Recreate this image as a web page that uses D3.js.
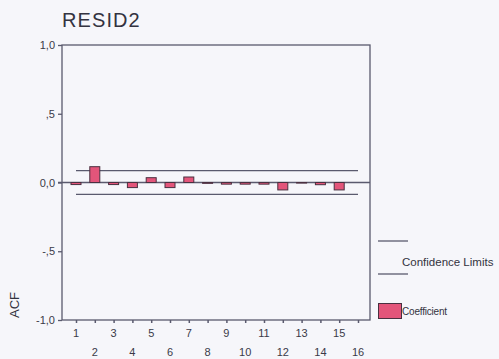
<!DOCTYPE html>
<html>
<head>
<meta charset="utf-8">
<script src="https://cdn.jsdelivr.net/npm/d3@7"></script>
<style>
  html, body { margin: 0; padding: 0; background: #f6f6fa; }
  svg { display: block; font-family: "Liberation Sans", Arial, sans-serif; }
</style>
</head>
<body>
<svg id="chart" width="499" height="359"></svg>
<script>
// Autocorrelation of RESID2 by lag
const lags = [1, 2, 3, 4, 5, 6, 7, 8, 9, 10, 11, 12, 13, 14, 15, 16];
const acf = [-0.015, 0.115, -0.015, -0.037, 0.035, -0.037, 0.04, -0.006, -0.012, -0.012, -0.012, -0.054, -0.004, -0.016, -0.054, 0.0];
const confUpper = [0.086, 0.086, 0.086, 0.086, 0.086, 0.086, 0.086, 0.086, 0.086, 0.086, 0.086, 0.086, 0.086, 0.086, 0.086, 0.086];
const confLower = [-0.086, -0.086, -0.086, -0.086, -0.086, -0.086, -0.086, -0.086, -0.086, -0.086, -0.086, -0.086, -0.086, -0.086, -0.086, -0.086];
const yTicks = [1.0, 0.5, 0.0, -0.5, -1.0];
const yTickLabels = ["1,0", ",5", "0,0", "-,5", "-1,0"];

const svg = d3.select("#chart");
const frame = { left: 62, right: 370, top: 45, bottom: 320 };
const axisColor = "#5a5a6e";
const barFill = "#e3557a";
const barStroke = "#4a3040";

const x = d3.scalePoint().domain(lags).range([76, 358]);
const y = d3.scaleLinear().domain([-1, 1]).range([frame.bottom, frame.top]);
const barW = 10;

// Title
svg.append("text")
  .attr("x", 62).attr("y", 27)
  .attr("font-size", 20).attr("letter-spacing", 1.1).attr("fill", "#333340")
  .text("RESID2");

// Plot frame
svg.append("rect")
  .attr("x", frame.left).attr("y", frame.top)
  .attr("width", frame.right - frame.left)
  .attr("height", frame.bottom - frame.top)
  .attr("fill", "none").attr("stroke", axisColor).attr("stroke-width", 1.3);

// Y axis
const yAxis = d3.axisLeft(y).tickValues(yTicks)
  .tickFormat((d, i) => yTickLabels[i]).tickSize(4).tickPadding(3);
const gy = svg.append("g").attr("transform", `translate(${frame.left},0)`).call(yAxis);
gy.select(".domain").remove();
gy.selectAll("line").attr("stroke", axisColor).attr("stroke-width", 1.3);
gy.selectAll("text").attr("font-size", 11).attr("fill", "#3a3a48")
  .attr("font-family", "'Liberation Sans', Arial, sans-serif");

// X axis: ticks at every lag, labels alternate across two rows
const xAxis = d3.axisBottom(x).tickSize(3).tickFormat("");
const gx = svg.append("g").attr("transform", `translate(0,${frame.bottom})`).call(xAxis);
gx.select(".domain").remove();
gx.selectAll("line").attr("stroke", axisColor).attr("stroke-width", 1.5);
svg.append("g").selectAll("text").data(lags).join("text")
  .attr("x", d => x(d))
  .attr("y", d => d % 2 === 1 ? 337 : 356)
  .attr("text-anchor", "middle")
  .attr("font-size", 11).attr("fill", "#3a3a48")
  .text(d => d);

// Y axis title
svg.append("text")
  .attr("transform", "translate(19,305) rotate(-90)")
  .attr("text-anchor", "middle")
  .attr("font-size", 13).attr("fill", "#333340")
  .text("ACF");

// Zero reference line
svg.append("line")
  .attr("x1", frame.left - 4).attr("x2", frame.right)
  .attr("y1", y(0)).attr("y2", y(0))
  .attr("stroke", axisColor).attr("stroke-width", 1.3);

// Confidence limits
const limitLine = d3.line().x((d, i) => x(lags[i])).y(d => y(d));
[confUpper, confLower].forEach(vals => {
  svg.append("path")
    .attr("d", limitLine(vals))
    .attr("fill", "none").attr("stroke", axisColor).attr("stroke-width", 1.3);
});

// Coefficient bars
svg.append("g").selectAll("rect").data(lags.map((l, i) => ({ lag: l, v: acf[i] })))
  .join("rect")
  .attr("x", d => x(d.lag) - barW / 2)
  .attr("y", d => y(Math.max(0, d.v)))
  .attr("width", barW)
  .attr("height", d => Math.abs(y(d.v) - y(0)))
  .attr("fill", barFill).attr("stroke", barStroke).attr("stroke-width", 1);

// Legend
const legend = svg.append("g");
[241, 274].forEach(ly => {
  legend.append("line")
    .attr("x1", 378).attr("x2", 408).attr("y1", ly).attr("y2", ly)
    .attr("stroke", axisColor).attr("stroke-width", 1.3);
});
legend.append("text")
  .attr("x", 402).attr("y", 266)
  .attr("font-size", 11.5).attr("fill", "#333340")
  .text("Confidence Limits");
legend.append("rect")
  .attr("x", 378.5).attr("y", 303.5).attr("width", 23).attr("height", 15)
  .attr("fill", barFill).attr("stroke", barStroke).attr("stroke-width", 1);
legend.append("text")
  .attr("x", 402).attr("y", 315)
  .attr("font-size", 10).attr("letter-spacing", -0.2).attr("fill", "#333340")
  .text("Coefficient");
</script>
</body>
</html>
